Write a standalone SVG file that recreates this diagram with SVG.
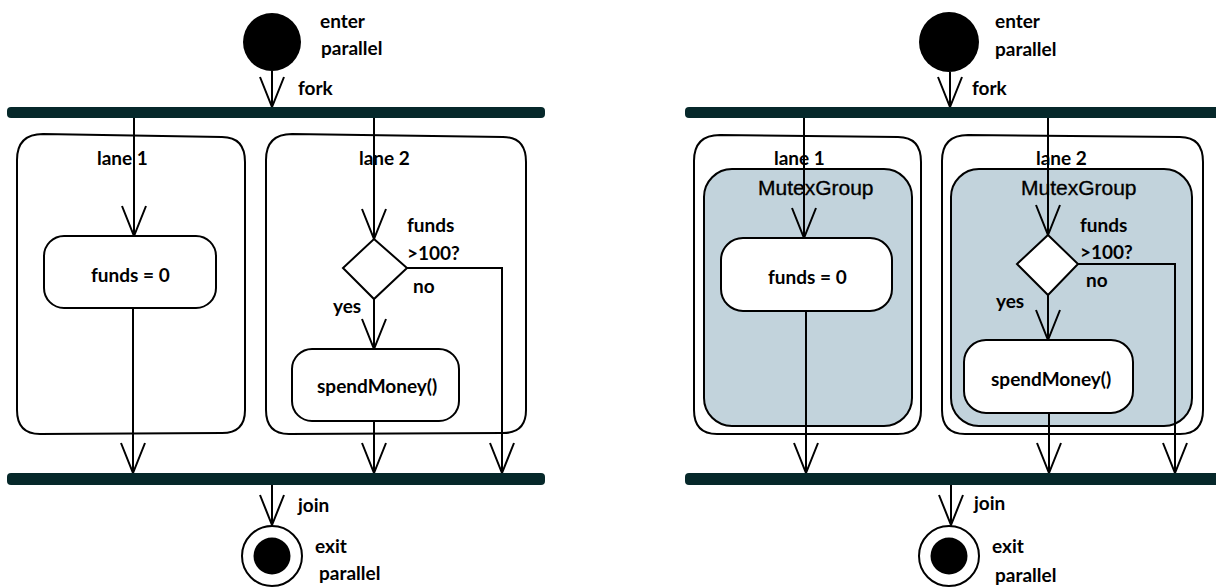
<svg xmlns="http://www.w3.org/2000/svg" width="1216" height="588" viewBox="0 0 1216 588">
<defs>
<style>
.t{font-family:Lato,"Open Sans",sans-serif;font-weight:bold;font-size:19px;fill:#000}
.m{font-family:"Liberation Sans",Arial,sans-serif;font-size:21px;fill:#000;stroke:#000;stroke-width:0.35}
.lane{fill:#fff;stroke:#000;stroke-width:2}
.mutex{fill:#c2d3dc;stroke:#000;stroke-width:2}
.act{fill:#fff;stroke:#000;stroke-width:2}
.bar{fill:#06282a}
.c{fill:none;stroke:#000;stroke-width:2}
.start{fill:#000}
.endo{fill:#fff;stroke:#000;stroke-width:2}
</style>
<marker id="arr" viewBox="-32 -14 34 28" refX="0" refY="0" markerWidth="34" markerHeight="28" markerUnits="userSpaceOnUse" orient="auto">
<path d="M-30,-12 L0,0 L-30,12" fill="none" stroke="#000" stroke-width="2"/>
</marker>
</defs>
<rect width="1216" height="588" fill="#fff"/>

<!-- LEFT DIAGRAM -->
<g id="L-lane1">
<path class="lane" d="M43,134 L222,137 Q245,137 245,162 L245,410 Q245,433 222,433 L40,434 Q17,434 17,410 L17,160 Q17,134 43,134 Z"/>
<text class="t" x="97" y="165">lane 1</text>
</g>
<g id="L-lane2">
<path class="lane" d="M292,134 L503,137 Q526,137 526,162 L526,410 Q526,433 503,433 L289,434 Q266,434 266,410 L266,160 Q266,134 292,134 Z"/>
<text class="t" x="359" y="165">lane 2</text>
</g>

<!-- RIGHT DIAGRAM lanes -->
<g id="R-lane1">
<path class="lane" d="M720,135 L898,137 Q921,137 921,162 L921,410 Q921,434 898,434 L717,434 Q694,434 694,410 L694,161 Q694,135 720,135 Z"/>
<text class="t" x="774" y="165">lane 1</text>
</g>
<g id="R-mutex1">
<rect class="mutex" x="704" y="169" width="208" height="257" rx="28"/>
<text class="m" x="758" y="195">MutexGroup</text>
</g>
<g id="R-lane2">
<path class="lane" d="M968,135 L1180,137 Q1203,137 1203,162 L1203,410 Q1203,434 1180,434 L965,434 Q942,434 942,410 L942,161 Q942,135 968,135 Z"/>
<text class="t" x="1036" y="165">lane 2</text>
</g>
<g id="R-mutex2">
<rect class="mutex" x="951" y="169" width="241" height="257" rx="28"/>
<text class="m" x="1021" y="195">MutexGroup</text>
</g>

<g id="connectors">
<!-- left -->
<line class="c" x1="272" y1="71" x2="272" y2="107" marker-end="url(#arr)"/>
<line class="c" x1="134" y1="118" x2="134" y2="236" marker-end="url(#arr)"/>
<line class="c" x1="374" y1="118" x2="374" y2="239" marker-end="url(#arr)"/>
<line class="c" x1="133" y1="308" x2="133" y2="473" marker-end="url(#arr)"/>
<line class="c" x1="374" y1="299" x2="374" y2="349" marker-end="url(#arr)"/>
<polyline class="c" points="407,268 502,268 502,473" marker-end="url(#arr)"/>
<line class="c" x1="374" y1="421" x2="374" y2="473" marker-end="url(#arr)"/>
<line class="c" x1="272" y1="485" x2="272" y2="525" marker-end="url(#arr)"/>
<!-- right -->
<line class="c" x1="950" y1="72" x2="950" y2="107" marker-end="url(#arr)"/>
<line class="c" x1="804" y1="118" x2="804" y2="238" marker-end="url(#arr)"/>
<line class="c" x1="1048" y1="118" x2="1048" y2="235" marker-end="url(#arr)"/>
<line class="c" x1="806" y1="311" x2="806" y2="473" marker-end="url(#arr)"/>
<line class="c" x1="1048" y1="295" x2="1048" y2="340" marker-end="url(#arr)"/>
<polyline class="c" points="1078,264 1175,264 1175,473" marker-end="url(#arr)"/>
<line class="c" x1="1049" y1="413" x2="1049" y2="473" marker-end="url(#arr)"/>
<line class="c" x1="951" y1="485" x2="951" y2="525" marker-end="url(#arr)"/>
</g>

<!-- left nodes -->
<g id="L-start">
<circle class="start" cx="272" cy="42" r="29"/>
<text class="t" x="320" y="28">enter</text>
<text class="t" x="321" y="55">parallel</text>
</g>
<g id="L-fork">
<rect class="bar" x="7" y="107" width="538" height="11" rx="4"/>
<text class="t" x="298" y="95">fork</text>
</g>
<g id="L-funds0">
<rect class="act" x="44" y="236" width="172" height="72" rx="20"/>
<text class="t" x="91" y="282">funds = 0</text>
</g>
<g id="L-decision">
<polygon class="act" points="374,239 407,268 374,299 343,268"/>
<text class="t" x="407" y="232">funds</text>
<text class="t" x="407" y="260">&gt;100?</text>
<text class="t" x="413" y="293">no</text>
<text class="t" x="333" y="313">yes</text>
</g>
<g id="L-spend">
<rect class="act" x="292" y="349" width="167" height="72" rx="20"/>
<text class="t" x="317" y="393">spendMoney()</text>
</g>
<g id="L-join">
<rect class="bar" x="7" y="473" width="538" height="12" rx="4"/>
<text class="t" x="298" y="512">join</text>
</g>
<g id="L-end">
<circle class="endo" cx="272" cy="556" r="30"/>
<circle class="start" cx="272" cy="556" r="18.5"/>
<text class="t" x="315" y="553">exit</text>
<text class="t" x="319" y="580">parallel</text>
</g>

<!-- right nodes -->
<g id="R-start">
<circle class="start" cx="949" cy="42" r="30"/>
<text class="t" x="995" y="28">enter</text>
<text class="t" x="995" y="56">parallel</text>
</g>
<g id="R-fork">
<rect class="bar" x="685" y="107" width="540" height="11" rx="4"/>
<text class="t" x="972" y="95">fork</text>
</g>
<g id="R-funds0">
<rect class="act" x="721" y="238" width="171" height="73" rx="22"/>
<text class="t" x="768" y="284">funds = 0</text>
</g>
<g id="R-decision">
<polygon class="act" points="1048,235 1078,264 1048,295 1017,264"/>
<text class="t" x="1080" y="232">funds</text>
<text class="t" x="1080" y="259">&gt;100?</text>
<text class="t" x="1086" y="287">no</text>
<text class="t" x="996" y="308">yes</text>
</g>
<g id="R-spend">
<rect class="act" x="964" y="340" width="169" height="73" rx="22"/>
<text class="t" x="991" y="386">spendMoney()</text>
</g>
<g id="R-join">
<rect class="bar" x="685" y="473" width="540" height="12" rx="4"/>
<text class="t" x="974" y="510">join</text>
</g>
<g id="R-end">
<circle class="endo" cx="949" cy="556" r="30"/>
<circle class="start" cx="949" cy="556" r="18.5"/>
<text class="t" x="992" y="553">exit</text>
<text class="t" x="995" y="582">parallel</text>
</g>
</svg>
